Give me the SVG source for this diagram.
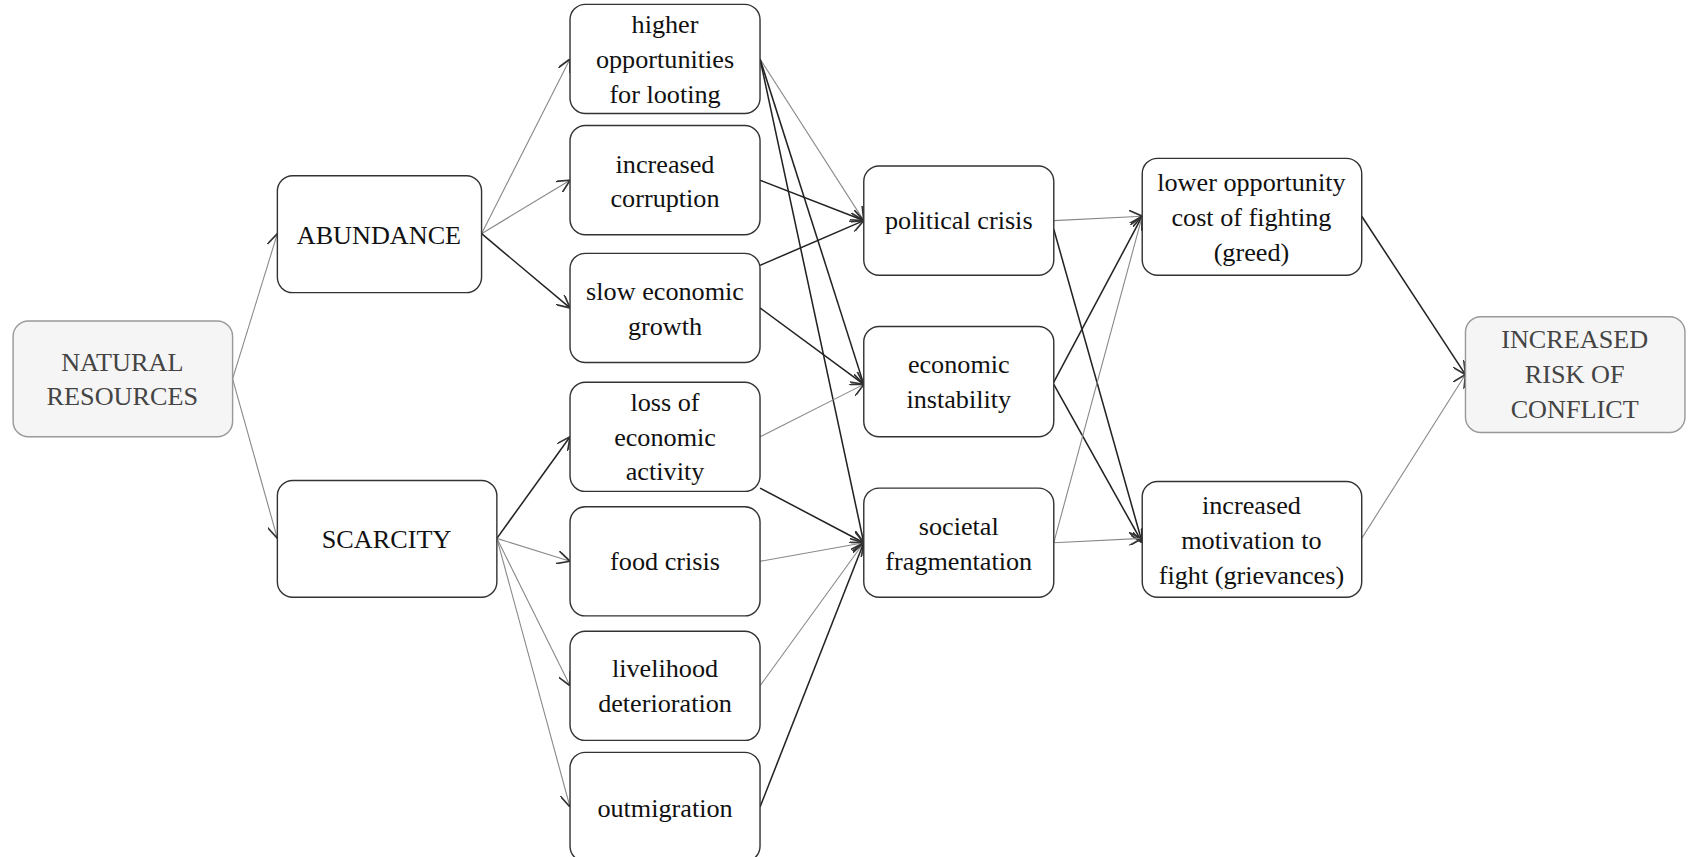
<svg xmlns="http://www.w3.org/2000/svg" width="1692" height="857" viewBox="0 0 1692 857" font-family="Liberation Serif, Times New Roman, serif">
<style>
.n rect{fill:#fff;stroke:#333;stroke-width:1.3}
.g rect{fill:#f5f5f5;stroke:#999;stroke-width:1.3}
text{font-family:'Liberation Serif','Times New Roman',serif;font-size:24px;fill:#111;text-anchor:middle}
.g text{fill:#444}
.e path{fill:none;stroke:#222;stroke-width:1.4;marker-end:url(#a)}
.e path.l{stroke:#888;stroke-width:1}
</style>
<defs><marker id="a" viewBox="0 0 10 10" refX="10" refY="5" markerWidth="12" markerHeight="12" markerUnits="userSpaceOnUse" orient="auto"><path d="M0,0L10,5L0,10" fill="none" stroke="#333" stroke-width="1.3"/></marker></defs>
<rect width="1692" height="857" fill="#fff"/>
<g transform="scale(1.092)">
<g class="e">
<path class="l" d="M213,347L254,214"/><path class="l" d="M213,347L254,493"/>
<path class="l" d="M441,214L522,54"/><path class="l" d="M441,214L522,165"/><path d="M441,214L522,282"/>
<path d="M455,493L522,400"/><path class="l" d="M455,493L522,514"/><path class="l" d="M455,493L522,628"/><path class="l" d="M455,493L522,739"/>
<path class="l" d="M696,54L791,202"/><path d="M696,54L791,352"/><path d="M696,54L791,497"/>
<path d="M696,165L791,202"/><path d="M696,243L791,202"/><path d="M696,282L791,352"/>
<path class="l" d="M696,400L791,352"/><path d="M696,447L791,497"/>
<path class="l" d="M696,514L791,497"/><path class="l" d="M696,628L791,497"/><path d="M696,739L791,497"/>
<path class="l" d="M965,202L1046,198"/><path d="M965,210L1046,497"/>
<path d="M965,350L1046,198"/><path d="M965,352L1046,497"/>
<path class="l" d="M965,497L1046,198"/><path class="l" d="M965,497L1046,493"/>
<path d="M1247,198L1342,343"/><path class="l" d="M1247,493L1342,343"/>
</g>
<g id="nr" class="g"><rect x="12" y="294" width="201" height="106" rx="14"/><text x="112" y="340">NATURAL</text><text x="112" y="371">RESOURCES</text></g>
<g id="ab" class="n"><rect x="254" y="161" width="187" height="107" rx="14"/><text x="347" y="223">ABUNDANCE</text></g>
<g id="sc" class="n"><rect x="254" y="440" width="201" height="107" rx="14"/><text x="354" y="502">SCARCITY</text></g>
<g id="loot" class="n"><rect x="522" y="4" width="174" height="100" rx="14"/><text x="609" y="30">higher</text><text x="609" y="62">opportunities</text><text x="609" y="94">for looting</text></g>
<g id="corr" class="n"><rect x="522" y="115" width="174" height="100" rx="14"/><text x="609" y="158">increased</text><text x="609" y="190">corruption</text></g>
<g id="slow" class="n"><rect x="522" y="232" width="174" height="100" rx="14"/><text x="609" y="275">slow economic</text><text x="609" y="307">growth</text></g>
<g id="loss" class="n"><rect x="522" y="350" width="174" height="100" rx="14"/><text x="609" y="376">loss of</text><text x="609" y="408">economic</text><text x="609" y="440">activity</text></g>
<g id="food" class="n"><rect x="522" y="464" width="174" height="100" rx="14"/><text x="609" y="522">food crisis</text></g>
<g id="live" class="n"><rect x="522" y="578" width="174" height="100" rx="14"/><text x="609" y="620">livelihood</text><text x="609" y="652">deterioration</text></g>
<g id="out" class="n"><rect x="522" y="689" width="174" height="100" rx="14"/><text x="609" y="748">outmigration</text></g>
<g id="pol" class="n"><rect x="791" y="152" width="174" height="100" rx="14"/><text x="878" y="210">political crisis</text></g>
<g id="eco" class="n"><rect x="791" y="299" width="174" height="101" rx="14"/><text x="878" y="342">economic</text><text x="878" y="374">instability</text></g>
<g id="soc" class="n"><rect x="791" y="447" width="174" height="100" rx="14"/><text x="878" y="490">societal</text><text x="878" y="522">fragmentation</text></g>
<g id="greed" class="n"><rect x="1046" y="145" width="201" height="107" rx="14"/><text x="1146" y="175">lower opportunity</text><text x="1146" y="207">cost of fighting</text><text x="1146" y="239">(greed)</text></g>
<g id="griev" class="n"><rect x="1046" y="441" width="201" height="106" rx="14"/><text x="1146" y="471">increased</text><text x="1146" y="503">motivation to</text><text x="1146" y="535">fight (grievances)</text></g>
<g id="risk" class="g"><rect x="1342" y="290" width="201" height="106" rx="14"/><text x="1442" y="319">INCREASED</text><text x="1442" y="351">RISK OF</text><text x="1442" y="383">CONFLICT</text></g>
</g>
</svg>
